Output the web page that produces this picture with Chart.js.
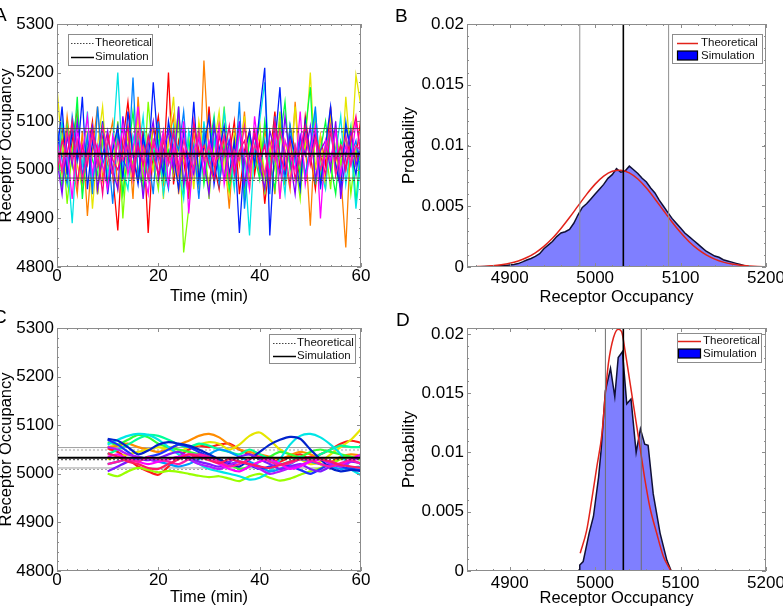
<!DOCTYPE html>
<html>
<head>
<meta charset="utf-8">
<script src="https://cdn.jsdelivr.net/npm/chart.js@4.4.1/dist/chart.umd.min.js"></script>
<style>
  html, body { margin: 0; padding: 0; background: #fff; }
  #fig { position: relative; width: 783px; height: 608px; overflow: hidden; }
  #fig canvas { position: absolute; left: 0; top: 0; }
  .tag { position: absolute; font: 19px "Liberation Sans", Arial, sans-serif; line-height: 19px; color: #000; }
</style>
</head>
<body>
<div id="fig">
  <canvas id="chartA" width="783" height="608"></canvas>
  <canvas id="chartB" width="783" height="608"></canvas>
  <canvas id="chartC" width="783" height="608"></canvas>
  <canvas id="chartD" width="783" height="608"></canvas>
  <div class="tag" style="left:-6px;top:5px">A</div>
  <div class="tag" style="left:395px;top:6px">B</div>
  <div class="tag" style="left:-7px;top:307px">C</div>
  <div class="tag" style="left:396px;top:310px">D</div>
</div>
<script>
// ---- panel A: fast fluctuating runs, one value per minute ----
const timeA = [0,1,2,3,4,5,6,7,8,9,10,11,12,13,14,15,16,17,18,19,20,21,22,23,24,25,26,27,28,29,30,
  31,32,33,34,35,36,37,38,39,40,41,42,43,44,45,46,47,48,49,50,51,52,53,54,55,56,57,58,59,60];
const a01 = [5010,5090,4985,5060,5120,4960,5035,5100,4950,5070, 5010,4990,4875,5060,5140,5030,4980,5080,4870,5050,
  5110,5000,5200,4970,5060,5020,4940,5090,5040,4990, 5130,5010,4960,5070,5030,5100,4950,5040,5080,4990,
  5060,4930,5020,5120,5000,4970,5090,5040,4980,5110, 5030,4960,5070,5010,5130,4990,5050,5000,5080,5020, 5110];
const a02 = [5060,4990,5110,5020,4950,5080,4905,5040,5130,4980, 5050,5100,4960,5030,5070,4940,5150,5010,4990,5090,
  5020,4970,5060,5110,4950,5040,5000,5080,4960,5225, 5030,4980,5100,5040,4920,5070,5010,5120,4970,5050,
  4990,5080,5030,4950,5100,5020,4960,5140,5000,5060, 4885,5090,5020,4970,5110,5040,4990,4840,5070,5010, 5050];
const a03 = [5170,5040,4980,5100,5010,4960,5080,4920,5050,5130, 4990,5060,5020,4950,5090,5030,5110,4970,5040,5000,
  5080,4940,5060,5150,4990,5020,5070,4960,5100,5030, 4970,5050,5120,5000,4950,5080,5020,5110,4960,5040,
  5070,4990,5030,5090,4940,5060,5010,5130,4980,5050, 5200,5000,5070,4960,5100,5030,4980,5150,5020,5195, 5130];
const a04 = [5000,5070,4930,5040,5110,4980,5020,5090,4950,5060, 5030,4990,5100,4900,5050,5010,5080,4970,5140,5020,
  4960,5070,5030,4990,5110,4830,4920,5050,5000,5080, 4940,5060,5020,5130,4980,5040,5090,4960,5070,5010,
  5100,4950,5040,5000,5120,4970,5060,5020,4940,5080, 5030,5110,4990,5050,4960,5090,5010,5070,4950,5040, 5010];
const a05 = [5050,4960,5090,5010,5150,4940,5060,5020,4990,5100, 4970,5040,5080,4950,5030,5120,5000,4960,5070,5020,
  5090,4980,5040,5010,5130,4950,5060,5000,5080,4970, 5040,5110,4990,5050,4960,5020,5090,4940,5070,5030,
  4980,5100,5020,4960,5060,5140,5000,5050,4990,5080, 5170,4970,5040,5100,5010,4950,5060,5030,5090,4930, 5060];
const a06 = [4980,5100,5030,4890,5060,5010,5120,4970,5040,5080, 4990,5050,5200,5000,4960,5070,5030,5110,4980,5040,
  5060,4950,5020,5090,5000,4940,5080,5030,4970,5100, 5010,5060,4990,5120,5040,4960,5080,5020,4865,5050,
  5100,5180,4990,5070,5030,4950,5090,5010,5060,4980, 5040,5120,5000,4960,5080,5030,5110,4970,5050,4920, 5020];
const a07 = [5090,5020,4970,5110,5040,4990,5070,4950,5130,5010, 5050,4930,5080,5020,5000,5190,4980,5060,5030,4950,
  5100,5010,4960,5070,5040,5120,4990,5050,4940,5080, 5020,5100,4970,5040,5060,4990,5140,4920,5030,5080,
  5000,5060,4950,5110,5030,4980,5090,5020,5070,4990, 5050,5130,4960,5040,5080,5010,4970,5100,5030,5060, 4980];
const a08 = [5030,5130,4990,5080,5020,5150,4960,5060,5010,5100, 4950,5040,5090,4980,5120,5030,4970,5070,5010,5180,
  5040,4990,5100,5030,4960,5080,5000,5140,4980,5050, 5110,4970,5040,5090,4990,5060,4870,5030,5080,5010,
  5120,5210,4865,5050,5170,4990,5070,5030,4960,5100, 5020,5080,4970,5050,5130,5010,4960,5090,5040,4990, 5070];
const a09 = [5020,4950,5070,5010,5100,4980,5040,5090,4960,5030, 5080,5000,4960,5110,5030,4990,5060,4940,5050,5100,
  4980,5040,5080,5000,5130,4970,5030,4990,5070,5020, 4950,5090,5040,4980,5060,5010,5100,4970,5030,5070,
  5010,4960,5080,5040,4990,5110,5020,4950,5070,5030, 5090,4980,5040,5060,5000,5100,4940,5030,5080,5010, 5040];
const a10 = [5060,5000,5040,4940,5080,5030,5110,4990,5050,5010, 4960,5070,5020,5090,4990,5040,5130,5000,4950,5060,
  5030,5080,4970,5050,5010,5100,4910,5040,5070,4990, 5060,5020,5090,4970,5040,5000,5080,5030,4960,5110,
  5020,5050,4990,5080,4940,5060,5030,5000,5120,4970, 5040,5090,4900,5060,5020,5080,4990,5050,5010,5100, 5030];
const a11 = [4990,5060,5030,5100,4970,5050,5010,5080,5040,4950, 5070,5020,5000,5040,5090,4980,5050,5010,5070,5030,
  4990,5060,5020,5080,5000,5040,4960,5100,5030,5050, 5010,4980,5070,5030,5090,4990,5040,5060,5000,5080,
  5020,5050,4970,5100,5030,5000,5060,4980,5040,5090, 5010,5070,5030,4990,5080,5020,5050,5000,5060,5110, 5030];
const a12 = [5040,5000,5080,5020,5060,4980,5030,5070,5010,5090, 5030,4990,5060,5020,5050,5000,5080,5040,4980,5060,
  5020,5070,5010,5040,4990,5060,5030,5000,5080,5020, 5050,5010,5030,5070,4980,5040,5020,5090,5000,5050,
  5030,4990,5060,5020,5080,5040,4970,5050,5010,5070, 5020,5060,5000,5040,5090,4990,5030,5070,5010,5050, 5040];
const runsA = [a01, a02, a03, a04, a05, a06, a07, a08, a09, a10, a11, a12];
const colorsA = ['#ff0000','#ff8000','#e6e600','#80ff00','#00ff40','#00e5e5',
                 '#0080ff','#0020ff','#8000ff','#ff00ff','#ff0080','#ff1aa0'];
const simMeanA = 5033, simBandA = [4983, 5085];
const theoMeanA = 5028, theoBandA = [4978, 5078];

// ---- panel C: slow runs, sampled every 2 min from t = 10 ----
const timeC = [10,12,14,16,18,20,22,24,26,28,30,32,34,36,38,40,42,44,46,48,50,52,54,56,58,60];
const c01 = [5052,5045,5030,5015,5005,4998,5015,5035,5050,5058,5055,5060,5062,5050,5040,5035,5030,5025,5035,5040,5030,5040,5050,5062,5068,5064];
const c02 = [5055,5058,5062,5055,5050,5045,5052,5060,5068,5078,5082,5075,5060,5050,5045,5040,5035,5030,5038,5045,5040,5030,5025,5035,5040,5038];
const c03 = [5030,5035,5040,5045,5050,5055,5050,5045,5055,5060,5065,5062,5050,5060,5078,5085,5070,5050,5040,5030,5020,5025,5040,5055,5070,5092];
const c04 = [5000,4995,5005,5012,5008,5003,5006,5004,5000,4996,4993,4995,4990,4985,4995,5000,4992,4986,4990,4998,5005,5012,5020,5030,5035,5028];
const c05 = [5065,5060,5070,5080,5075,5062,5055,5050,5045,5040,5035,5030,5020,5010,5015,5025,5035,5045,5040,5035,5045,5050,5045,5040,5035,5030];
const c06 = [5040,5050,5060,5072,5080,5078,5070,5060,5055,5062,5058,5050,5045,5040,5050,5040,5030,5020,5025,5035,5030,5040,5050,5058,5055,5055];
const c07 = [5060,5070,5078,5082,5080,5070,5055,5040,5030,5020,5010,5005,5000,4995,4988,4992,5005,5030,5060,5078,5082,5075,5060,5040,5010,4997];
const c08 = [5020,5025,5030,5035,5030,5025,5020,5015,5020,5030,5040,5050,5045,5035,5025,5015,5005,5010,5020,5030,5025,5020,5015,5010,5012,5015];
const c09 = [5070,5060,5045,5030,5035,5040,5050,5060,5055,5045,5035,5028,5020,5025,5018,5010,5015,5020,5015,5008,5000,5010,5020,5015,5010,5008];
const c10 = [5072,5068,5055,5040,5048,5060,5065,5062,5058,5050,5040,5030,5022,5015,5030,5045,5060,5070,5076,5072,5050,5030,5012,5005,5008,5006];
const c11 = [5005,5015,5025,5030,5028,5032,5040,5045,5035,5025,5020,5015,5025,5035,5040,5030,5020,5010,5015,5020,5010,5005,5015,5020,5025,5022];
const c12 = [5055,5050,5040,5035,5030,5025,5030,5035,5030,5020,5015,5010,5018,5025,5020,5010,5000,5005,5012,5018,5025,5030,5020,5015,5025,5035];
const c13 = [5035,5040,5030,5025,5020,5025,5030,5035,5040,5038,5030,5020,5010,5005,5015,5025,5030,5020,5010,5015,5025,5030,5025,5020,5030,5040];
const c14 = [5020,5025,5030,5025,5035,5030,5025,5020,5030,5040,5035,5025,5015,5020,5030,5035,5025,5018,5022,5030,5028,5020,5015,5022,5028,5020];
const c15 = [5042,5035,5025,5020,5012,5010,5020,5030,5040,5035,5028,5022,5030,5025,5020,5015,5012,5018,5025,5030,5035,5030,5025,5018,5015,5012];
const runsC = [c01, c02, c03, c04, c05, c06, c07, c08, c09, c10, c11, c12, c13, c14, c15];
const colorsC = ['#ff1a1a','#ff8c00','#e6e600','#99ff00','#33ff33','#00ff99','#00e6e6','#0099ff',
                 '#1a33ff','#0022cc','#7f1aff','#b31aff','#ff00ff','#ff1aa6','#ff1a66'];
const simMeanC = 5033, simBandC = [5012, 5054];
const theoMeanC = 5029, theoBandC = [5009, 5049];

// ---- panel B: distribution of panel A ----
const binsB = [4860,4865,4870,4875,4880,4885,4890,4895,4900,4905,4910,4915,4920,4925,4930,4935,4940,4945,4950,4955,
  4960,4965,4970,4975,4980,4985,4990,4995,5000,5005,5010,5015,5020,5025,5030,5035,5040,5045,5050,5055,
  5060,5065,5070,5075,5080,5085,5090,5095,5100,5105,5110,5115,5120,5125,5130,5135,5140,5145,5150,5155,
  5160,5165,5170,5175,5180,5185];
const simB = [0.00002,0.00003,0.00004,0.00005,0.00007,0.00008,0.0001,0.00012,0.00016,0.0002,
  0.00028,0.00042,0.00058,0.0007,0.00088,0.0011,0.0015,0.0018,0.0021,0.0025,
  0.0028,0.0029,0.0031,0.0036,0.0043,0.0049,0.0052,0.0056,0.0060,0.0064,
  0.0068,0.0073,0.0076,0.0081,0.0078,0.0079,0.0083,0.0080,0.0077,0.0073,
  0.0070,0.0065,0.0061,0.0055,0.0050,0.0045,0.0040,0.0036,0.0032,0.0028,
  0.0025,0.0022,0.0019,0.0016,0.0013,0.0011,0.0009,0.0008,0.0006,0.0005,
  0.0004,0.0003,0.0002,0.0001,0.00005,0.00002];
const theoXB = [4850,4860,4870,4880,4890,4900,4910,4920,4930,4940,4950,4960,4970,4980,4990,5000,5010,5020,
  5030,5040,5050,5060,5070,5080,5090,5100,5110,5120,5130,5140,5150,5160,5170,5180,5190,5200];
const theoB = [0.00001,0.00003,0.00005,0.0001,0.00018,0.0003,0.0005,0.00078,0.00117,0.0017,0.00236,0.00317,
  0.00407,0.00503,0.00598,0.00682,0.00748,0.00788,0.00797,0.00775,0.00724,0.0065,0.0056,0.00465,
  0.0037,0.00283,0.00208,0.00147,0.001,0.00065,0.0004,0.00024,0.00014,0.00008,0.00004,0.00002];
const vGrayB = [4982, 5086], vBlackB = 5033;

// ---- panel D: distribution of panel C ----
const simXD = [4981.5,4982,4986,4993,4998,5004,5007,5012,5018,5023,5027,5032,5037,5042,5048,5053,5058,5062,5068,5076,5084,5088.5,5089];
const simD = [0,0.0005,0.0008,0.0032,0.0046,0.0079,0.0102,0.0152,0.0171,0.0147,0.0180,0.0185,0.0141,0.0145,0.0100,0.0120,0.0107,0.0106,0.0065,0.0032,0.0009,0.0001,0];
const theoXD = [4982.5,4990,4996,5002,5008,5012,5015.5,5021.5,5027,5031,5035,5041,5047,5053,5058.5,5064,5072,5080,5088];
const theoD = [0.0015,0.0034,0.006,0.0088,0.0116,0.015,0.0175,0.0197,0.0204,0.0202,0.0186,0.0158,0.013,0.0102,0.0076,0.0054,0.0032,0.0012,0.0001];
const vGrayD = [5012, 5054], vBlackD = 5033;

// ---- axes ----
const timeTicks = [0, 20, 40, 60], timeLabels = ['0', '20', '40', '60'];
const occTicks = [4800, 4900, 5000, 5100, 5200, 5300];
const occLabels = ['4800', '4900', '5000', '5100', '5200', '5300'];
const histTicks = [4900, 5000, 5100, 5200], histLabels = ['4900', '5000', '5100', '5200'];
const probTicks = [0, 0.005, 0.01, 0.015, 0.02], probLabels = ['0', '0.005', '0.01', '0.015', '0.02'];

const FONT = '"Liberation Sans", Arial, Helvetica, sans-serif';

function makeScales(p) {
  return {
    x: {
      type: 'linear', min: p.xMin, max: p.xMax,
      afterBuildTicks: s => { s.ticks = p.xTicks.map(v => ({ value: v })); },
      afterFit: s => { s.height = p.xH; s.paddingLeft = 0; s.paddingRight = 0; },
      grid: { display: false, drawTicks: false },
      border: { display: false },
      ticks: { color: '#000', autoSkip: false, maxRotation: 0, padding: p.xPad,
               font: { family: FONT, size: 17, lineHeight: 1 },
               callback: (v, i) => p.xLabels[i] },
      title: { display: true, text: p.xTitle, color: '#000',
               font: { family: FONT, size: 16.5, lineHeight: 1 },
               padding: { top: 0, bottom: p.xTitlePad } }
    },
    y: {
      type: 'linear', min: p.yMin, max: p.yMax,
      afterBuildTicks: s => { s.ticks = p.yTicks.map(v => ({ value: v })); },
      afterFit: s => { s.width = p.yW; s.paddingTop = 0; s.paddingBottom = 0; },
      grid: { display: false, drawTicks: false },
      border: { display: false },
      ticks: { color: '#000', autoSkip: false, padding: 3,
               font: { family: FONT, size: 17, lineHeight: 1 },
               callback: (v, i) => p.yLabels[i] },
      title: { display: true, text: p.yTitle, color: '#000',
               font: { family: FONT, size: 16.5, lineHeight: 1 },
               padding: { top: p.yTitlePad, bottom: 0 } }
    }
  };
}

// box and inward ticks, matlab style
function boxAxes(xMinor, yMinor) {
  return {
    id: 'boxAxes',
    afterDatasetsDraw(chart) {
      const { ctx, chartArea: a, scales: { x, y } } = chart;
      ctx.save();
      ctx.strokeStyle = '#8c8c8c';
      ctx.lineWidth = 1;
      ctx.beginPath();
      const mark = (v, len, horiz) => {
        if (horiz) {
          const p = Math.round(x.getPixelForValue(v)) + 0.5;
          ctx.moveTo(p, a.bottom); ctx.lineTo(p, a.bottom - len);
          ctx.moveTo(p, a.top); ctx.lineTo(p, a.top + len);
        } else {
          const p = Math.round(y.getPixelForValue(v)) + 0.5;
          ctx.moveTo(a.left, p); ctx.lineTo(a.left + len, p);
          ctx.moveTo(a.right, p); ctx.lineTo(a.right - len, p);
        }
      };
      x.ticks.forEach(t => mark(t.value, 4, true));
      y.ticks.forEach(t => mark(t.value, 4, false));
      for (let v = Math.ceil(x.min / xMinor) * xMinor; v <= x.max + 1e-9; v += xMinor) mark(v, 2, true);
      for (let v = Math.ceil(y.min / yMinor) * yMinor; v <= y.max + 1e-12; v += yMinor) mark(v, 2, false);
      ctx.stroke();
      ctx.strokeRect(Math.round(a.left) + 0.5, Math.round(a.top) + 0.5,
                     Math.round(a.right - a.left) - 1, Math.round(a.bottom - a.top) - 1);
      ctx.restore();
    }
  };
}

// legend drawn inside the axes
function boxLegend(spec) {
  return {
    id: 'boxLegend',
    afterDraw(chart) {
      const ctx = chart.ctx;
      ctx.save();
      ctx.fillStyle = '#fff';
      ctx.fillRect(spec.x, spec.y, spec.w, spec.h);
      ctx.strokeStyle = '#8c8c8c';
      ctx.lineWidth = 1;
      ctx.strokeRect(spec.x + 0.5, spec.y + 0.5, spec.w, spec.h);
      ctx.font = '11.5px ' + FONT;
      ctx.textBaseline = 'middle';
      spec.items.forEach((it, i) => {
        const cy = spec.y + spec.rows[i];
        if (it.patch) {
          ctx.fillStyle = '#0000ff';
          ctx.fillRect(spec.sx0, cy - 4.5, spec.sx1 - spec.sx0, 9);
          ctx.strokeStyle = '#000';
          ctx.lineWidth = 1.2;
          ctx.strokeRect(spec.sx0 + 0.5, cy - 4.5, spec.sx1 - spec.sx0 - 1, 9);
        } else {
          ctx.strokeStyle = it.color;
          ctx.lineWidth = it.width;
          ctx.setLineDash(it.dash || []);
          ctx.beginPath();
          ctx.moveTo(spec.sx0, Math.round(cy) + 0.5);
          ctx.lineTo(spec.sx1, Math.round(cy) + 0.5);
          ctx.stroke();
          ctx.setLineDash([]);
        }
        ctx.fillStyle = '#111';
        ctx.fillText(it.text, spec.tx, cy);
      });
      ctx.restore();
    }
  };
}

const pts = (xs, ys) => xs.map((x, i) => ({ x, y: ys[i] }));
const hLine = (x0, x1, v) => [{ x: x0, y: v }, { x: x1, y: v }];
const vLine = (y0, y1, v) => [{ x: v, y: y0 }, { x: v, y: y1 }];
const lineDs = (data, color, width, order, extra) => Object.assign({
  type: 'line', data, borderColor: color, borderWidth: width, pointRadius: 0,
  fill: false, tension: 0, order
}, extra || {});

function levelSets(x0, x1, simMean, simBand, theoMean, theoBand, gray, baseOrder) {
  return [
    lineDs(hLine(x0, x1, simMean), '#000', 2, -100),
    lineDs(hLine(x0, x1, theoMean), '#3c3c3c', 1, -99, { borderDash: [2, 2] }),
    lineDs(hLine(x0, x1, simBand[0]), gray, 1, baseOrder),
    lineDs(hLine(x0, x1, simBand[1]), gray, 1, baseOrder),
    lineDs(hLine(x0, x1, theoBand[0]), gray, 1, baseOrder, { borderDash: [2, 2] }),
    lineDs(hLine(x0, x1, theoBand[1]), gray, 1, baseOrder, { borderDash: [2, 2] })
  ];
}

const common = { responsive: false, animation: false, events: [],
                 plugins: { legend: { display: false }, tooltip: { enabled: false } } };

// ---- A ----
new Chart(document.getElementById('chartA'), {
  type: 'line',
  data: { datasets: [
    ...levelSets(0, 60, simMeanA, simBandA, theoMeanA, theoBandA, 'rgba(70,70,70,0.85)', -90),
    ...runsA.map((r, i) => lineDs(pts(timeA, r), colorsA[i], 1.3, 50 - i))
  ] },
  options: Object.assign({}, common, {
    layout: { padding: { left: 0, right: 422, top: 24, bottom: 302 } },
    scales: makeScales({ xMin: 0, xMax: 60, xTicks: timeTicks, xLabels: timeLabels, xH: 39, xPad: 1,
      xTitle: 'Time (min)', xTitlePad: 1.5, yMin: 4800, yMax: 5300, yTicks: occTicks, yLabels: occLabels,
      yW: 57, yTitle: 'Receptor Occupancy', yTitlePad: -2 })
  }),
  plugins: [boxAxes(2, 20), boxLegend({ x: 68, y: 34, w: 84, h: 31, rows: [8.5, 22.5], sx0: 71, sx1: 94, tx: 95,
    items: [{ text: 'Theoretical', color: '#444', width: 1, dash: [1.5, 1.5] },
            { text: 'Simulation', color: '#000', width: 1.5 }] })]
});

// ---- B ----
new Chart(document.getElementById('chartB'), {
  type: 'line',
  data: { datasets: [
    lineDs(vLine(0, 0.02, vBlackB), '#000', 1.6, -10),
    lineDs(vLine(0, 0.02, vGrayB[0]), '#8f8f8f', 1, -5),
    lineDs(vLine(0, 0.02, vGrayB[1]), '#8f8f8f', 1, -5),
    lineDs(pts(theoXB, theoB), '#e2231a', 1.5, 0, { cubicInterpolationMode: 'monotone' }),
    lineDs(pts(binsB, simB), '#101035', 1.5, 5, { fill: 'origin', backgroundColor: 'rgba(0,0,255,0.5)' })
  ] },
  options: Object.assign({}, common, {
    layout: { padding: { left: 391, right: 17, top: 24, bottom: 302 } },
    scales: makeScales({ xMin: 4850, xMax: 5200, xTicks: histTicks, xLabels: histLabels, xH: 39, xPad: 3,
      xTitle: 'Receptor Occupancy', xTitlePad: 0, yMin: 0, yMax: 0.02, yTicks: probTicks, yLabels: probLabels,
      yW: 76, yTitle: 'Probability', yTitlePad: 10.5 })
  }),
  plugins: [boxAxes(20, 0.001), boxLegend({ x: 672, y: 34, w: 90, h: 29, rows: [8.5, 21.5], sx0: 677, sx1: 698, tx: 701,
    items: [{ text: 'Theoretical', color: '#e2231a', width: 1.5 }, { text: 'Simulation', patch: true }] })]
});

// ---- C ----
new Chart(document.getElementById('chartC'), {
  type: 'line',
  data: { datasets: [
    ...levelSets(0, 60, simMeanC, simBandC, theoMeanC, theoBandC, 'rgba(150,150,150,0.9)', 90),
    ...runsC.map((r, i) => lineDs(pts(timeC, r), colorsC[i], 2.2, 50 - i, { tension: 0.25 }))
  ] },
  options: Object.assign({}, common, {
    layout: { padding: { left: 0, right: 422, top: 328, bottom: 0 } },
    scales: makeScales({ xMin: 0, xMax: 60, xTicks: timeTicks, xLabels: timeLabels, xH: 37, xPad: 1,
      xTitle: 'Time (min)', xTitlePad: 2.5, yMin: 4800, yMax: 5300, yTicks: occTicks, yLabels: occLabels,
      yW: 57, yTitle: 'Receptor Occupancy', yTitlePad: -2 })
  }),
  plugins: [boxAxes(2, 20), boxLegend({ x: 269, y: 334, w: 86, h: 29, rows: [9, 22], sx0: 273, sx1: 296, tx: 297,
    items: [{ text: 'Theoretical', color: '#444', width: 1, dash: [1.5, 1.5] },
            { text: 'Simulation', color: '#000', width: 1.5 }] })]
});

// ---- D ----
new Chart(document.getElementById('chartD'), {
  type: 'line',
  data: { datasets: [
    lineDs(vLine(0, 0.0205, vBlackD), '#000', 1.6, -10),
    lineDs(vLine(0, 0.0205, vGrayD[0]), '#6e6e6e', 1, -5),
    lineDs(vLine(0, 0.0205, vGrayD[1]), '#6e6e6e', 1, -5),
    lineDs(pts(theoXD, theoD), '#e2231a', 1.5, 0, { cubicInterpolationMode: 'monotone' }),
    lineDs(pts(simXD, simD), '#101035', 1.5, 5, { fill: 'origin', backgroundColor: 'rgba(0,0,255,0.5)' })
  ] },
  options: Object.assign({}, common, {
    layout: { padding: { left: 391, right: 17, top: 328, bottom: 0 } },
    scales: makeScales({ xMin: 4850, xMax: 5200, xTicks: histTicks, xLabels: histLabels, xH: 37, xPad: 3.5,
      xTitle: 'Receptor Occupancy', xTitlePad: 1, yMin: 0, yMax: 0.0205, yTicks: probTicks, yLabels: probLabels,
      yW: 76, yTitle: 'Probability', yTitlePad: 10.5 })
  }),
  plugins: [boxAxes(20, 0.001), boxLegend({ x: 677, y: 333, w: 84, h: 29, rows: [8, 20.5], sx0: 678, sx1: 701, tx: 703,
    items: [{ text: 'Theoretical', color: '#e2231a', width: 1.5 }, { text: 'Simulation', patch: true }] })]
});
</script>
</body>
</html>
